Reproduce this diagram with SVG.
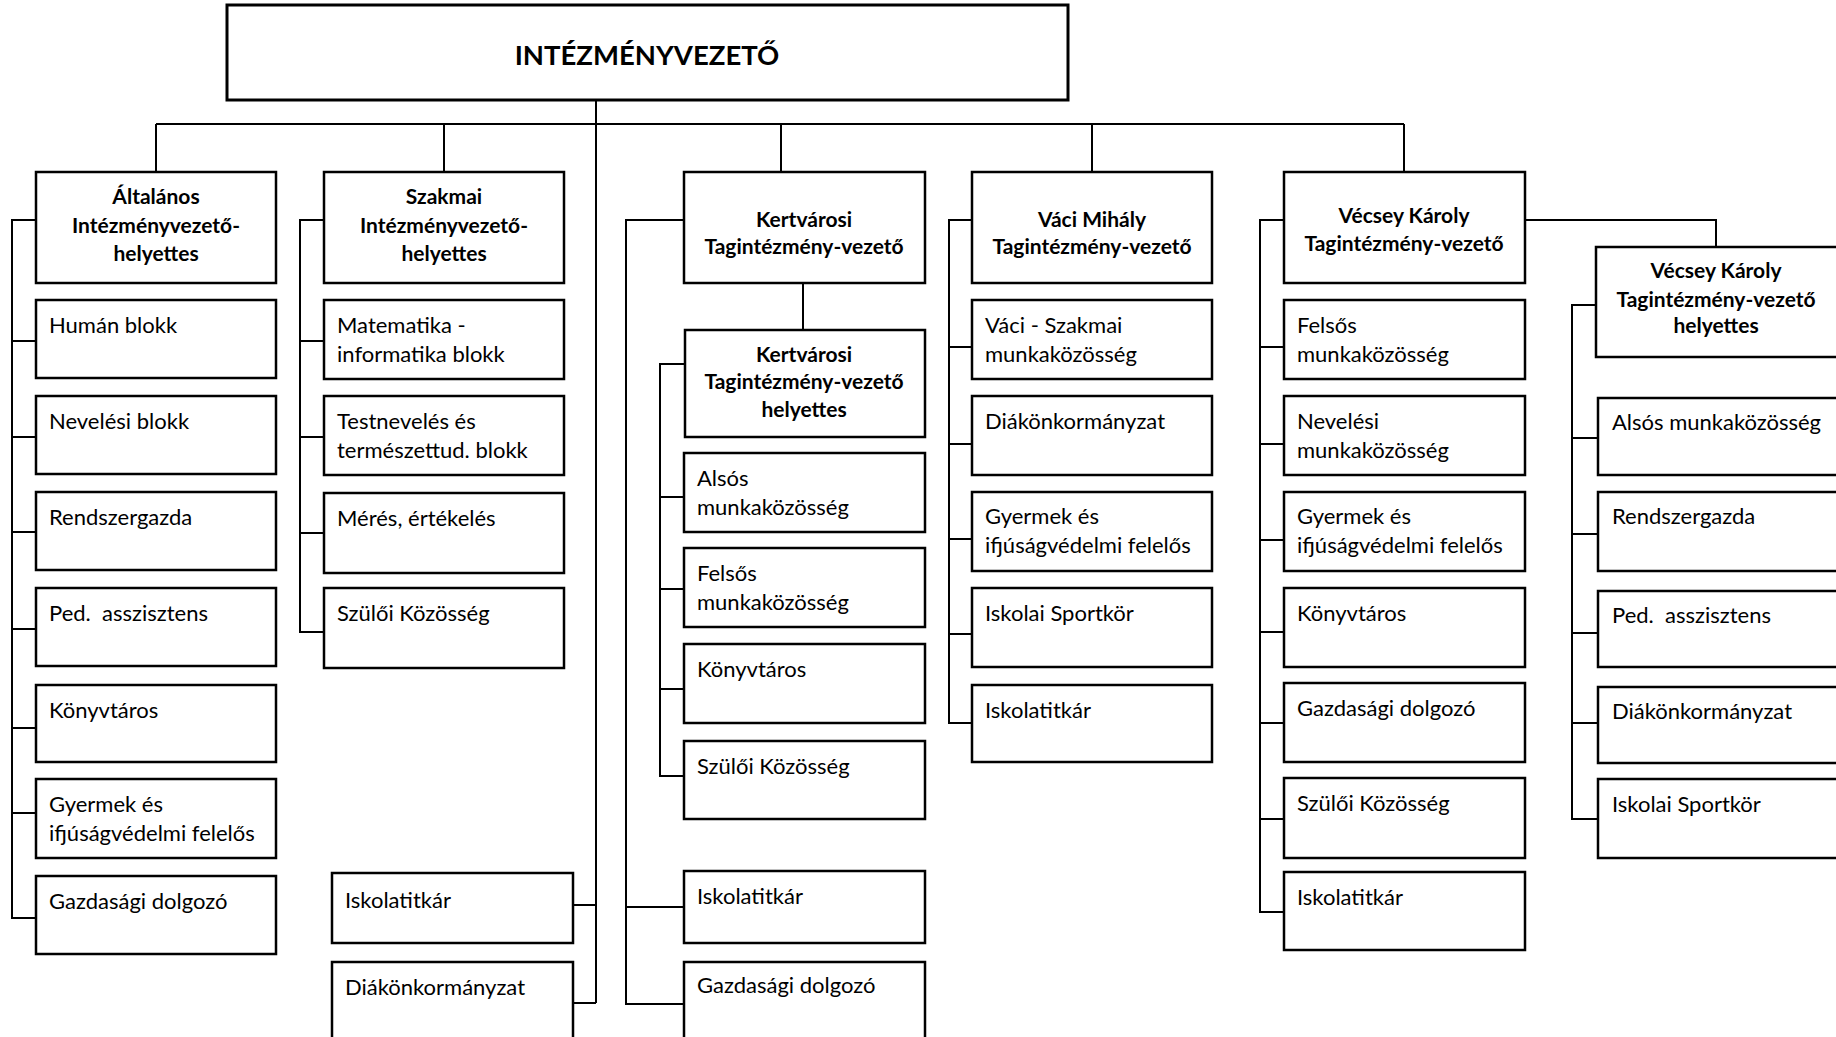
<svg xmlns="http://www.w3.org/2000/svg" width="1836" height="1037" viewBox="0 0 1836 1037">
<style>
.box{fill:#fff;stroke:#000;stroke-width:2.5}
.top{fill:#fff;stroke:#000;stroke-width:3}
.conn{fill:none;stroke:#000;stroke-width:2}
text{font-family:Lato,"Open Sans","Liberation Sans",sans-serif;fill:#000}
.t{font-size:22px}
.h{font-size:21px;font-weight:bold;text-anchor:middle}
.title{font-size:27.5px;font-weight:bold;text-anchor:middle}
</style>
<rect width="1836" height="1037" fill="#fff"/>
<g id="connectors">
<path class="conn" d="M596,100 V1003 M156,124 H1404 M156,124 V172 M444,124 V172 M781,124 V172 M1092,124 V172 M1404,124 V172"/>
<path class="conn" d="M36,220 H12 V918 H36 M12,341 H36 M12,437 H36 M12,532 H36 M12,629 H36 M12,728 H36 M12,813 H36"/>
<path class="conn" d="M324,220 H300 V632 H324 M300,341 H324 M300,437 H324 M300,533 H324"/>
<path class="conn" d="M573,905 H596 M573,1003 H596"/>
<path class="conn" d="M684,220 H626 V1004 H684 M626,907 H684 M803,283 V330"/>
<path class="conn" d="M685,364 H660 V776 H684 M660,497 H684 M660,589 H684 M660,689 H684"/>
<path class="conn" d="M972,220 H949 V723 H972 M949,347 H972 M949,444 H972 M949,539 H972 M949,634 H972"/>
<path class="conn" d="M1284,220 H1260 V912 H1284 M1260,347 H1284 M1260,444 H1284 M1260,540 H1284 M1260,632 H1284 M1260,723 H1284 M1260,819 H1284"/>
<path class="conn" d="M1525,220 H1716 V247"/>
<path class="conn" d="M1596,305 H1572 V819 H1598 M1572,438 H1598 M1572,534 H1598 M1572,633 H1598 M1572,723 H1598"/>
</g>
<g id="n-top"><rect class="top" x="227" y="5" width="841" height="95"/><text class="title" x="647" y="65">INTÉZMÉNYVEZETŐ</text></g>
<g id="n-alt"><rect class="box" x="36" y="172" width="240" height="111"/><text class="h" x="156" y="204">Általános</text><text class="h" x="156" y="233">Intézményvezető-</text><text class="h" x="156" y="261">helyettes</text></g>
<g id="n-szak"><rect class="box" x="324" y="172" width="240" height="111"/><text class="h" x="444" y="204">Szakmai</text><text class="h" x="444" y="233">Intézményvezető-</text><text class="h" x="444" y="261">helyettes</text></g>
<g id="n-kert"><rect class="box" x="684" y="172" width="241" height="111"/><text class="h" x="804" y="227">Kertvárosi</text><text class="h" x="804" y="254">Tagintézmény-vezető</text></g>
<g id="n-vaci"><rect class="box" x="972" y="172" width="240" height="111"/><text class="h" x="1092" y="227">Váci Mihály</text><text class="h" x="1092" y="254">Tagintézmény-vezető</text></g>
<g id="n-vecs"><rect class="box" x="1284" y="172" width="241" height="111"/><text class="h" x="1404" y="223">Vécsey Károly</text><text class="h" x="1404" y="251">Tagintézmény-vezető</text></g>
<g id="n-vecsh"><rect class="box" x="1596" y="247" width="260" height="110"/><text class="h" x="1716" y="278">Vécsey Károly</text><text class="h" x="1716" y="307">Tagintézmény-vezető</text><text class="h" x="1716" y="333">helyettes</text></g>
<g id="n-kerth"><rect class="box" x="685" y="330" width="240" height="107"/><text class="h" x="804" y="362">Kertvárosi</text><text class="h" x="804" y="389">Tagintézmény-vezető</text><text class="h" x="804" y="417">helyettes</text></g>

<g id="n-alt-1"><rect class="box" x="36" y="300" width="240" height="78"/><text class="t" x="49" y="333">Humán blokk</text></g>
<g id="n-alt-2"><rect class="box" x="36" y="396" width="240" height="78"/><text class="t" x="49" y="429">Nevelési blokk</text></g>
<g id="n-alt-3"><rect class="box" x="36" y="492" width="240" height="78"/><text class="t" x="49" y="525">Rendszergazda</text></g>
<g id="n-alt-4"><rect class="box" x="36" y="588" width="240" height="78"/><text class="t" x="49" y="621" xml:space="preserve">Ped.  asszisztens</text></g>
<g id="n-alt-5"><rect class="box" x="36" y="685" width="240" height="77"/><text class="t" x="49" y="718">Könyvtáros</text></g>
<g id="n-alt-6"><rect class="box" x="36" y="779" width="240" height="79"/><text class="t" x="49" y="812">Gyermek és</text><text class="t" x="49" y="841">ifjúságvédelmi felelős</text></g>
<g id="n-alt-7"><rect class="box" x="36" y="876" width="240" height="78"/><text class="t" x="49" y="909">Gazdasági dolgozó</text></g>

<g id="n-szak-1"><rect class="box" x="324" y="300" width="240" height="79"/><text class="t" x="337" y="333">Matematika -</text><text class="t" x="337" y="362">informatika blokk</text></g>
<g id="n-szak-2"><rect class="box" x="324" y="396" width="240" height="79"/><text class="t" x="337" y="429">Testnevelés és</text><text class="t" x="337" y="458">természettud. blokk</text></g>
<g id="n-szak-3"><rect class="box" x="324" y="493" width="240" height="80"/><text class="t" x="337" y="526">Mérés, értékelés</text></g>
<g id="n-szak-4"><rect class="box" x="324" y="588" width="240" height="80"/><text class="t" x="337" y="621">Szülői Közösség</text></g>
<g id="n-szak-5"><rect class="box" x="332" y="873" width="241" height="70"/><text class="t" x="345" y="908">Iskolatitkár</text></g>
<g id="n-szak-6"><rect class="box" x="332" y="962" width="241" height="90"/><text class="t" x="345" y="995">Diákönkormányzat</text></g>

<g id="n-kerth-1"><rect class="box" x="684" y="453" width="241" height="79"/><text class="t" x="697" y="486">Alsós</text><text class="t" x="697" y="515">munkaközösség</text></g>
<g id="n-kerth-2"><rect class="box" x="684" y="548" width="241" height="79"/><text class="t" x="697" y="581">Felsős</text><text class="t" x="697" y="610">munkaközösség</text></g>
<g id="n-kerth-3"><rect class="box" x="684" y="644" width="241" height="79"/><text class="t" x="697" y="677">Könyvtáros</text></g>
<g id="n-kerth-4"><rect class="box" x="684" y="741" width="241" height="78"/><text class="t" x="697" y="774">Szülői Közösség</text></g>
<g id="n-kert-5"><rect class="box" x="684" y="871" width="241" height="72"/><text class="t" x="697" y="904">Iskolatitkár</text></g>
<g id="n-kert-6"><rect class="box" x="684" y="962" width="241" height="90"/><text class="t" x="697" y="993">Gazdasági dolgozó</text></g>

<g id="n-vaci-1"><rect class="box" x="972" y="300" width="240" height="79"/><text class="t" x="985" y="333">Váci - Szakmai</text><text class="t" x="985" y="362">munkaközösség</text></g>
<g id="n-vaci-2"><rect class="box" x="972" y="396" width="240" height="79"/><text class="t" x="985" y="429">Diákönkormányzat</text></g>
<g id="n-vaci-3"><rect class="box" x="972" y="492" width="240" height="79"/><text class="t" x="985" y="524">Gyermek és</text><text class="t" x="985" y="553">ifjúságvédelmi felelős</text></g>
<g id="n-vaci-4"><rect class="box" x="972" y="588" width="240" height="79"/><text class="t" x="985" y="621">Iskolai Sportkör</text></g>
<g id="n-vaci-5"><rect class="box" x="972" y="685" width="240" height="77"/><text class="t" x="985" y="718">Iskolatitkár</text></g>

<g id="n-vecs-1"><rect class="box" x="1284" y="300" width="241" height="79"/><text class="t" x="1297" y="333">Felsős</text><text class="t" x="1297" y="362">munkaközösség</text></g>
<g id="n-vecs-2"><rect class="box" x="1284" y="396" width="241" height="79"/><text class="t" x="1297" y="429">Nevelési</text><text class="t" x="1297" y="458">munkaközösség</text></g>
<g id="n-vecs-3"><rect class="box" x="1284" y="492" width="241" height="79"/><text class="t" x="1297" y="524">Gyermek és</text><text class="t" x="1297" y="553">ifjúságvédelmi felelős</text></g>
<g id="n-vecs-4"><rect class="box" x="1284" y="588" width="241" height="79"/><text class="t" x="1297" y="621">Könyvtáros</text></g>
<g id="n-vecs-5"><rect class="box" x="1284" y="683" width="241" height="79"/><text class="t" x="1297" y="716">Gazdasági dolgozó</text></g>
<g id="n-vecs-6"><rect class="box" x="1284" y="778" width="241" height="80"/><text class="t" x="1297" y="811">Szülői Közösség</text></g>
<g id="n-vecs-7"><rect class="box" x="1284" y="872" width="241" height="78"/><text class="t" x="1297" y="905">Iskolatitkár</text></g>

<g id="n-vecsh-1"><rect class="box" x="1598" y="398" width="260" height="77"/><text class="t" x="1612" y="430">Alsós munkaközösség</text></g>
<g id="n-vecsh-2"><rect class="box" x="1598" y="492" width="260" height="79"/><text class="t" x="1612" y="524">Rendszergazda</text></g>
<g id="n-vecsh-3"><rect class="box" x="1598" y="591" width="260" height="76"/><text class="t" x="1612" y="623" xml:space="preserve">Ped.  asszisztens</text></g>
<g id="n-vecsh-4"><rect class="box" x="1598" y="687" width="260" height="76"/><text class="t" x="1612" y="719">Diákönkormányzat</text></g>
<g id="n-vecsh-5"><rect class="box" x="1598" y="779" width="260" height="79"/><text class="t" x="1612" y="812">Iskolai Sportkör</text></g>
</svg>
